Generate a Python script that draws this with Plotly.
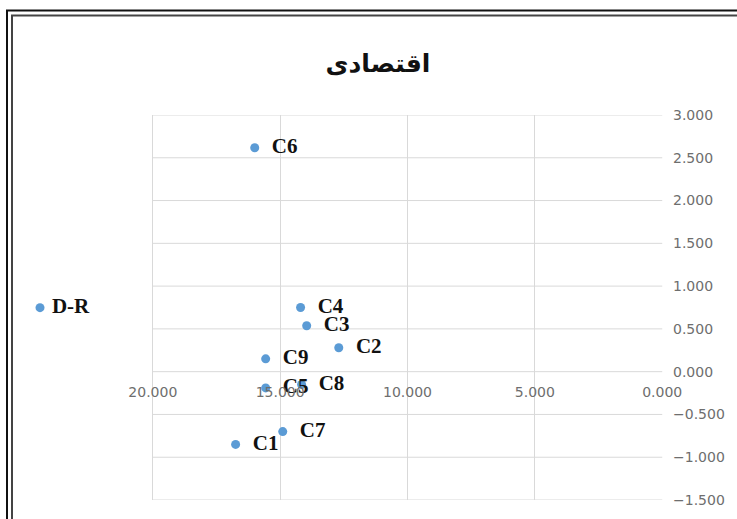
import plotly.graph_objects as go

labels = ["C1", "C2", "C3", "C4", "C5", "C6", "C7", "C8", "C9", "D-R"]
x_vals = [16.75, 12.7, 13.96, 14.2, 15.57, 16.0, 14.9, 14.16, 15.57, 24.43]
y_vals = [-0.85, 0.28, 0.537, 0.75, -0.19, 2.617, -0.70, -0.15, 0.15, 0.748]

x_ticks = [20, 15, 10, 5, 0]
y_ticks = [-1.5, -1.0, -0.5, 0.0, 0.5, 1.0, 1.5, 2.0, 2.5, 3.0]

title_text = "اقتصادی"

W, H = 737, 519
# plot area in screen pixels (left edge extended so D-R is inside)
L, R, T, B = 20, 663, 115, 500
X20_PX = 153  # pixel where x = 20
scale = (R - X20_PX) / 20.0
x_left = 20 + (X20_PX - L) / scale

def px(p):
    return (p - L) / (R - L)

def py(p):
    return (B - p) / (B - T)

templates = ["\u00a0\u00a0%{text}" if l != "D-R" else "\u00a0%{text}" for l in labels]

fig = go.Figure()
fig.add_trace(go.Scatter(
    x=x_vals, y=y_vals, text=labels, mode="markers+text",
    texttemplate=templates,
    textposition="middle right",
    textfont=dict(family="Liberation Serif", size=21, color="#111111", weight="bold"),
    marker=dict(color="#5B9BD5", size=9),
    cliponaxis=False, showlegend=False, hoverinfo="skip",
))

grid = "#D9D9D9"
tickfont = dict(family="DejaVu Sans", size=14, color="#6E6E6E")

shapes = []
for yv in y_ticks:
    shapes.append(dict(type="line", xref="x", yref="y", x0=x_ticks[0], x1=x_ticks[-1],
                       y0=yv, y1=yv, line=dict(color=grid, width=1), layer="below"))
shapes += [
    dict(type="rect", xref="paper", yref="paper",
         x0=px(7), y0=py(540), x1=px(760), y1=py(10.5),
         line=dict(color="#111111", width=2), fillcolor="rgba(0,0,0,0)", layer="above"),
    dict(type="rect", xref="paper", yref="paper",
         x0=px(12), y0=py(540), x1=px(760), y1=py(15.5),
         line=dict(color="#444444", width=2), fillcolor="rgba(0,0,0,0)", layer="above"),
]

fig.update_layout(
    width=W, height=H,
    margin=dict(l=L, r=W - R, t=T, b=H - B),
    paper_bgcolor="white", plot_bgcolor="white",
    title=dict(text=title_text, x=378 / W, xanchor="center", y=1 - 63 / H, yanchor="middle",
               font=dict(family="DejaVu Sans", size=25, color="#111111", weight="bold")),
    xaxis=dict(range=[x_left, -0.03], tickvals=x_ticks, tickformat=".3f",
               showgrid=True, gridcolor=grid, zeroline=False, showline=False,
               anchor="free", position=1.5 / 4.5, ticks="", ticklabelstandoff=10,
               tickfont=tickfont),
    yaxis=dict(range=[y_ticks[0], y_ticks[-1]], tickvals=y_ticks, tickformat=".3f", side="right",
               showgrid=False, zeroline=False, showline=False, ticks="",
               ticklabelstandoff=9, tickfont=tickfont),
    shapes=shapes,
)

fig.write_html("out.html", config={"displayModeBar": False},
               post_script="document.body.style.margin='0';")
